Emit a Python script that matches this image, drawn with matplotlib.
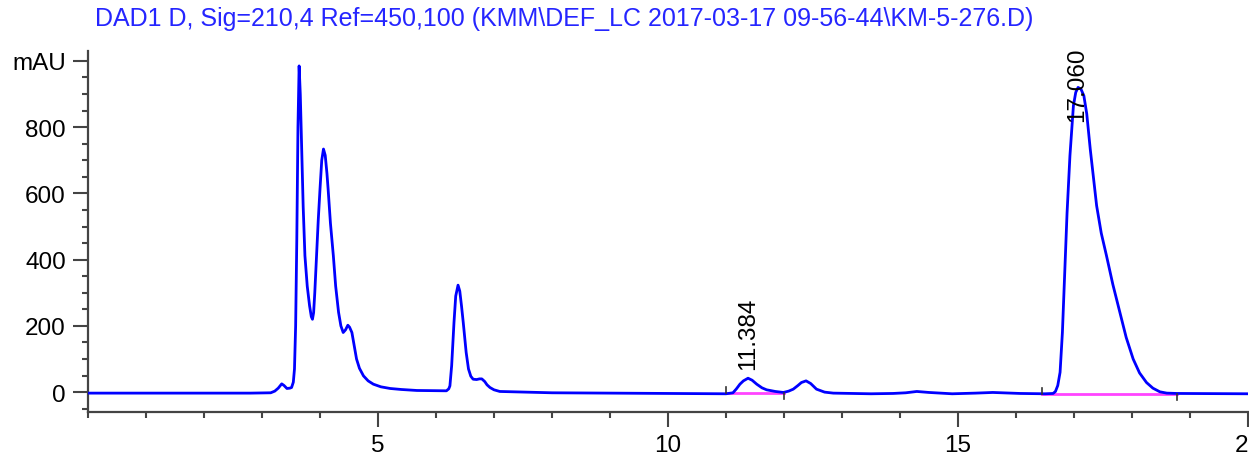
import matplotlib
matplotlib.use("Agg")
import matplotlib.pyplot as plt
from matplotlib.ticker import MultipleLocator, FixedLocator

plt.rcParams['font.family'] = ['Liberation Sans', 'DejaVu Sans']

# ---- data ----
time_min = [0.0, 2.8, 3.15, 3.22, 3.28, 3.34, 3.38, 3.43, 3.48, 3.51, 3.54, 3.56, 3.58, 3.60,
            3.62, 3.64, 3.66, 3.68, 3.71, 3.74, 3.78, 3.82, 3.85, 3.87, 3.89, 3.91, 3.94, 3.97,
            4.00, 4.03, 4.06, 4.09, 4.12, 4.14, 4.18, 4.23, 4.27, 4.32, 4.36, 4.40, 4.44, 4.48,
            4.51, 4.55, 4.59, 4.63, 4.68, 4.75, 4.83, 4.92, 5.05, 5.21, 5.40, 5.67, 6.18, 6.22,
            6.24, 6.27, 6.31, 6.34, 6.38, 6.41, 6.44, 6.47, 6.52, 6.56, 6.60, 6.64, 6.70, 6.75,
            6.79, 6.84, 6.88, 6.93, 7.00, 7.10, 8.0, 9.0, 10.0, 11.0,
            11.12, 11.18, 11.24, 11.30, 11.38, 11.45, 11.53, 11.62, 11.70, 11.85, 11.99, 12.08,
            12.16, 12.24, 12.30, 12.38, 12.46, 12.56, 12.70, 12.85, 13.5, 13.88, 14.1, 14.29,
            14.5, 14.9, 15.3, 15.6, 16.07, 16.50, 16.64, 16.68, 16.72, 16.76, 16.80, 16.84, 16.88,
            16.93, 16.99, 17.03, 17.07, 17.12, 17.17, 17.22, 17.28, 17.34, 17.39, 17.47, 17.56,
            17.67, 17.79, 17.90, 18.02, 18.13, 18.25, 18.36, 18.48, 18.60, 18.77, 20.0]
signal_mau = [-3, -3, -2, 3, 12, 25, 20, 11, 12, 14, 30, 70, 200, 460,
              800, 985, 900, 764, 560, 412, 320, 261, 228, 220, 240, 300, 412, 520,
              613, 700, 734, 715, 660, 613, 510, 412, 320, 241, 200, 180, 188, 202,
              196, 180, 140, 100, 72, 49, 34, 24, 16, 11, 8, 5, 4, 10,
              19, 80, 210, 290, 323, 305, 260, 210, 120, 70, 48, 39, 38, 40,
              40, 32, 22, 14, 7, 2, -2, -3, -4, -5,
              -2, 10, 24, 34, 42, 36, 24, 13, 7, 2, -1, 3,
              9, 20, 29, 34, 26, 9, 0, -3, -5, -4, -2, 2,
              -1, -5, -3, -1, -4, -5, -4, 2, 20, 60, 180, 362, 540,
              714, 865, 905, 920, 915, 895, 840, 734, 640, 563, 480, 412,
              325, 241, 165, 100, 58, 29, 12, 1, -3, -4, -5]

peak_rt_labels = ["11.384", "17.060"]
peak_rt = [11.384, 17.060]
label_bottom_mau = [69, 819]

integ_start = [11.0, 16.45]
integ_end = [12.0, 18.78]
integ_start_mau = [-4, -5]
integ_end_mau = [-4, -5]

x_major = [5, 10, 15, 20]
x_major_labels = ["5", "10", "15", "2"]
y_major = [0, 200, 400, 600, 800, 1000]
y_major_labels = ["0", "200", "400", "600", "800", "mAU"]

title_text = r"DAD1 D, Sig=210,4 Ref=450,100 (KMM\DEF_LC 2017-03-17 09-56-44\KM-5-276.D)"

# ---- figure ----
W, H = 1249, 456
fig = plt.figure(figsize=(W / 100, H / 100), dpi=100)
ax = fig.add_axes([88 / W, (H - 413) / H, 1160 / W, (413 - 52) / H])

ax.plot(time_min, signal_mau, color="#0000ff", lw=2.0, solid_joinstyle="round", zorder=3)

# integration baselines and start/end markers
for s, e, sv, ev in zip(integ_start, integ_end, integ_start_mau, integ_end_mau):
    ax.plot([s, e], [sv, ev], color="#ff44ff", lw=2.0, zorder=2)
    ax.plot([s, s], [sv, sv + 18], color="#333333", lw=1.2, zorder=4)
    ax.plot([e, e], [ev, ev - 18], color="#333333", lw=1.2, zorder=4)

for lab, rt, yb in zip(peak_rt_labels, peak_rt, label_bottom_mau):
    ax.text(rt, yb, lab, rotation=90, ha="center", va="bottom", fontsize=17.5,
            color="black", zorder=5)

ax.set_xlim(0, 20)
ax.set_ylim(-60, 1030)

for side in ("top", "right"):
    ax.spines[side].set_visible(False)
for side in ("left", "bottom"):
    ax.spines[side].set_color("#444444")
    ax.spines[side].set_linewidth(1.6)

ax.xaxis.set_major_locator(FixedLocator(x_major))
ax.set_xticklabels(x_major_labels)
ax.xaxis.set_minor_locator(MultipleLocator(1))
ax.yaxis.set_major_locator(FixedLocator(y_major))
ax.set_yticklabels(y_major_labels)
ax.yaxis.set_minor_locator(MultipleLocator(50))

ax.tick_params(axis="both", which="major", direction="out", length=10.5, width=1.5,
               color="#444444", labelsize=17.5, pad=5.5, labelcolor="black")
ax.tick_params(axis="both", which="minor", direction="out", length=4.3, width=1.5,
               color="#444444")
# the last x label shows only "2", right-aligned at the figure edge as in the reference
ax.get_xticklabels()[-1].set_horizontalalignment("right")

fig.text(95 / W, 1 - 19 / H, title_text, color="#2525ff", fontsize=18,
         ha="left", va="center")

fig.savefig("out.png", dpi=100)
